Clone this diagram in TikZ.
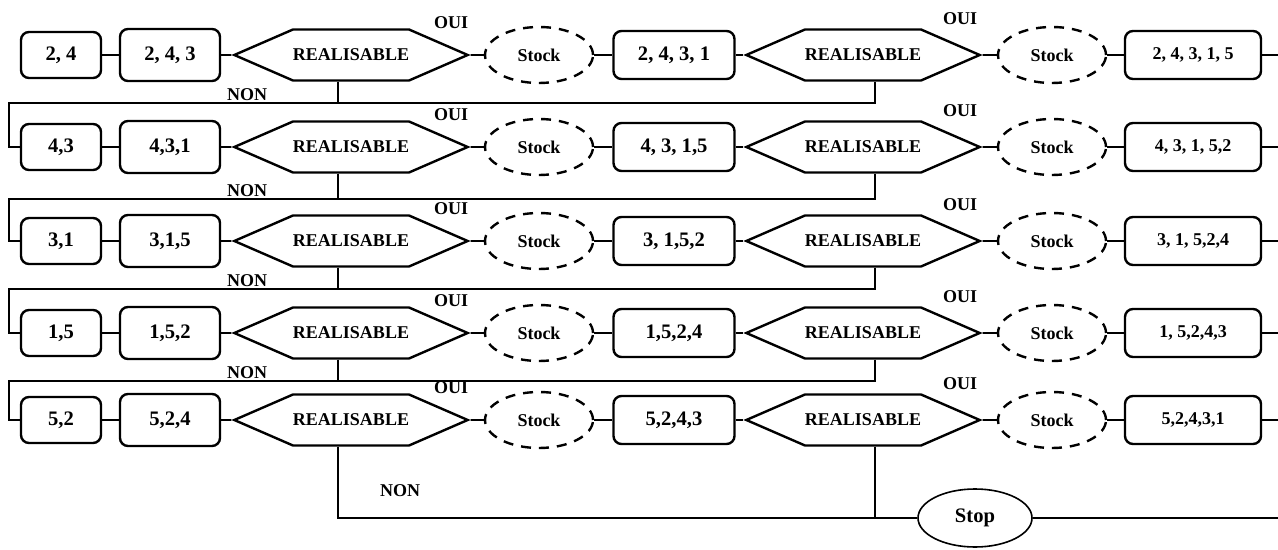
\documentclass[tikz,border=0pt]{standalone}
\usepackage{fontspec}
\setmainfont{Liberation Serif}
\usetikzlibrary{shapes.geometric,shapes.symbols,calc}

\begin{document}
\begin{tikzpicture}[x=0.5pt, y=-0.5pt,
  etat/.style={draw, line width=1.2pt, rounded corners=4pt, inner sep=0pt, font=\bfseries\fontsize{10.3}{12}\selectfont},
  final/.style={etat, minimum width=68pt, minimum height=24pt, font=\bfseries\fontsize{9}{11}\selectfont},
  test/.style={draw, line width=1.2pt, shape=signal, signal to=west and east, signal pointer angle=47, minimum width=115pt, minimum height=25.5pt, inner sep=0pt, font=\bfseries\fontsize{9}{11}\selectfont},
  stock/.style={draw, ellipse, dash pattern=on 5pt off 4pt, line width=1.2pt, minimum width=54pt, minimum height=28pt, inner sep=0pt, font=\bfseries\fontsize{9}{11}\selectfont},
  lien/.style={line width=0.8pt},
  rep/.style={font=\bfseries\fontsize{9}{11}\selectfont}]
\useasboundingbox (0,0) rectangle (1278,550);

% Rows of sequences
\foreach \i/\y/\la/\lb/\lc/\ld in {1/55/{2, 4}/{2, 4, 3}/{2, 4, 3, 1}/{2, 4, 3, 1, 5},
    2/147/{4,3}/{4,3,1}/{4, 3, 1,5}/{4, 3, 1, 5,2},
    3/241/{3,1}/{3,1,5}/{3, 1,5,2}/{3, 1, 5,2,4},
    4/333/{1,5}/{1,5,2}/{1,5,2,4}/{1, 5,2,4,3},
    5/420/{5,2}/{5,2,4}/{5,2,4,3}/{5,2,4,3,1}} {
  \node[etat, minimum width=40pt, minimum height=23pt] (a\i) at (61,\y) {\la};
  \node[etat, minimum width=50pt, minimum height=26pt] (b\i) at (170,\y) {\lb};
  \node[test] (r\i) at (351,\y) {REALISABLE};
  \node[stock] (s\i) at (539,\y) {Stock};
  \node[etat, minimum width=60.5pt, minimum height=24pt] (c\i) at (674,\y) {\lc};
  \node[test] (q\i) at (863,\y) {REALISABLE};
  \node[stock] (t\i) at (1052,\y) {Stock};
  \node[final] (d\i) at (1193,\y) {\ld};
  \coordinate (e\i) at (1278,\y);
  \node[rep] (o\i) at (451,\y-32) {OUI};
  \node[rep] (p\i) at (960,\y-36) {OUI};
  \draw[lien] (a\i) -- (b\i);
  \draw[lien] (b\i) -- (r\i);
  \draw[lien] (r\i) -- (s\i);
  \draw[lien] (s\i) -- (c\i);
  \draw[lien] (c\i) -- (q\i);
  \draw[lien] (q\i) -- (t\i);
  \draw[lien] (t\i) -- (d\i);
  \draw[lien] (d\i) -- (e\i);
}

% NON branches back to the next row
\foreach \i/\j/\y in {1/2/103, 2/3/199, 3/4/289, 4/5/381} {
  \coordinate (n\i) at (9,\y);
  \node[rep] (m\i) at (247,\y-8) {NON};
  \draw[lien] (r\i.south) ++(-13,0) |- (n\i);
  \draw[lien] (q\i.south) ++(12,0) |- (n\i) |- (a\j.west);
}

% Last row: stop
\node[draw, ellipse, line width=0.8pt, minimum width=57pt, minimum height=29pt, inner sep=0pt, font=\bfseries\fontsize{10.3}{12}\selectfont] (stop) at (975,518) {Stop};
\coordinate (fin) at (1278,518);
\node[rep] (m5) at (400,491) {NON};
\draw[lien] (r5.south) ++(-13,0) |- (stop.west);
\draw[lien] (q5.south) ++(12,0) |- (stop.west);
\draw[lien] (stop.east) -- (fin);
\end{tikzpicture}
\end{document}
